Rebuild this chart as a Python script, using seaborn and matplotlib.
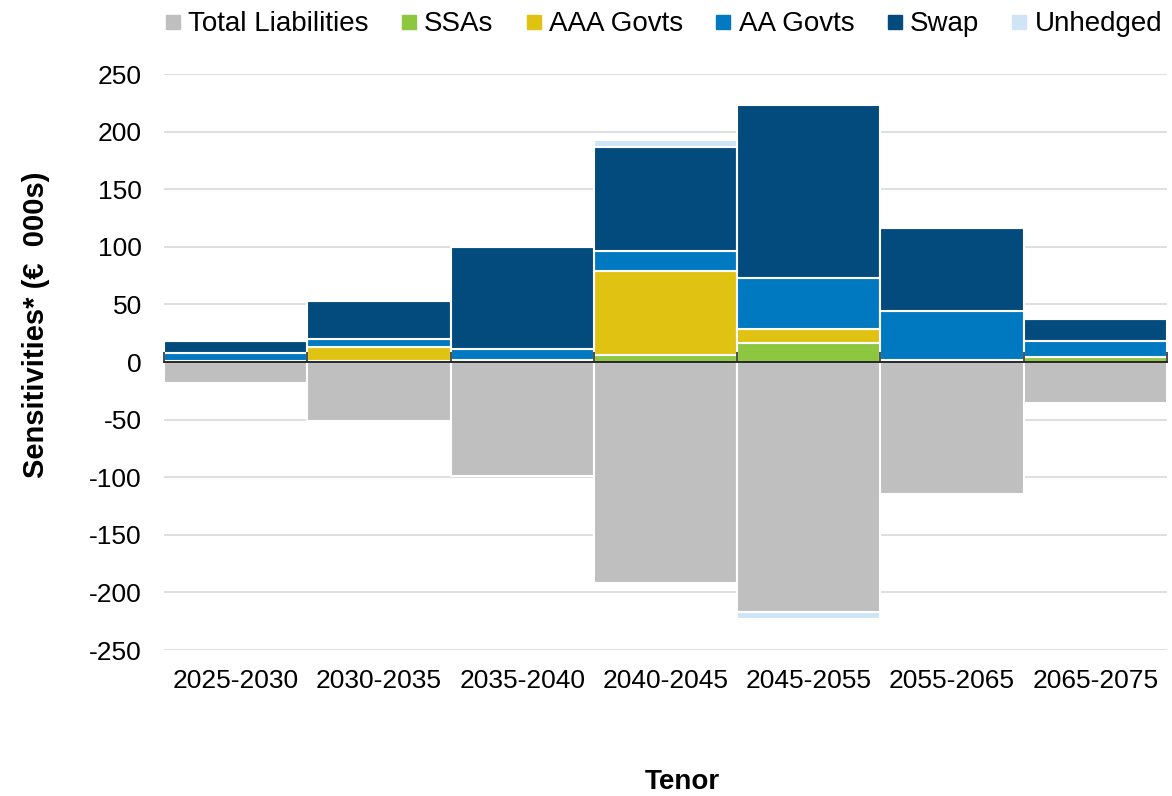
import numpy as np
import matplotlib
matplotlib.use("Agg")
import matplotlib.pyplot as plt
import seaborn as sns
from matplotlib.lines import Line2D

categories = ["2025-2030", "2030-2035", "2035-2040", "2040-2045",
              "2045-2055", "2055-2065", "2065-2075"]
total_liabilities = [-18, -51, -99, -192, -217, -115, -36]
ssas = [1, 1, 2, 6, 16.5, 2, 4]
aaa_govts = [0, 12, 0, 73, 12.5, 0, 0]
aa_govts = [7, 7, 9.5, 17.5, 44, 42.5, 14]
swap = [10.5, 33, 88.5, 90.5, 150.5, 71.5, 19]
unhedged = [0, 0, 0, 5.5, -6, 0, 0]
y_ticks = [-250, -200, -150, -100, -50, 0, 50, 100, 150, 200, 250]

colors = {
    "Total Liabilities": "#BFBFBF",
    "SSAs": "#8DC63F",
    "AAA Govts": "#E0C213",
    "AA Govts": "#0079C1",
    "Swap": "#034B7C",
    "Unhedged": "#CFE5F5",
}

sns.set_theme(style="white")
plt.rcParams["font.family"] = ["Liberation Sans", "DejaVu Sans"]
plt.rcParams["text.color"] = "black"
plt.rcParams["axes.labelcolor"] = "black"

fig = plt.figure(figsize=(11.72, 7.96), dpi=100)
ax = fig.add_axes([0.140, 0.1834, 0.8557, 0.7236])

x = np.arange(len(categories))
bar_kw = dict(width=1.0, edgecolor="white", linewidth=1.5, zorder=3)

# liabilities hang below zero
ax.bar(x, total_liabilities, color=colors["Total Liabilities"],
       label="Total Liabilities", **bar_kw)

# hedging assets stack upward from zero
pos_base = np.zeros(len(categories))
for name, vals in [("SSAs", ssas), ("AAA Govts", aaa_govts),
                   ("AA Govts", aa_govts), ("Swap", swap)]:
    v = np.array(vals, dtype=float)
    ax.bar(x, v, bottom=pos_base, color=colors[name], label=name, **bar_kw)
    pos_base += v

# unhedged sits on top of assets when positive, below liabilities when negative
uh = np.array(unhedged, dtype=float)
uh_bottom = np.where(uh >= 0, pos_base, np.array(total_liabilities, dtype=float))
ax.bar(x, uh, bottom=uh_bottom, color=colors["Unhedged"], label="Unhedged", **bar_kw)

ax.set_xlim(-0.5, len(categories) - 0.5)
ax.set_ylim(-250, 250)
ax.set_yticks(y_ticks)
ax.set_yticklabels([str(t) for t in y_ticks])
ax.yaxis.grid(True, color="#D9D9D9", linewidth=1.2, zorder=0)
ax.xaxis.grid(False)
for s in ax.spines.values():
    s.set_visible(False)

ax.set_xticks(x)
ax.set_xticklabels(categories)
ax.tick_params(axis="x", length=0, pad=14, labelsize=19, labelcolor="black")
ax.tick_params(axis="y", length=0, pad=16, labelsize=19, labelcolor="black")

# zero axis line with category-boundary tick marks
zero_ax = ax.secondary_xaxis(0.5)
zero_ax.set_zorder(6)
zero_ax.set_xticks(np.arange(-0.5, len(categories), 1.0))
zero_ax.set_xticklabels([])
zero_ax.tick_params(axis="x", direction="out", length=7, width=1.3, color="#404040")
zero_ax.spines["bottom"].set_visible(True)
zero_ax.spines["bottom"].set_color("#404040")
zero_ax.spines["bottom"].set_linewidth(1.3)

ax.set_ylabel("Sensitivities* (€  000s)", fontsize=21, fontweight="bold")
ax.yaxis.set_label_coords(-0.114, 0.564)
ax.set_xlabel("Tenor", fontsize=20, fontweight="bold")
ax.xaxis.set_label_coords(0.517, -0.206)

handles, labels = ax.get_legend_handles_labels()
proxies = [Line2D([0], [0], marker="s", linestyle="none", markersize=10,
                  markerfacecolor=colors[l], markeredgecolor=colors[l]) for l in labels]
fig.legend(proxies, labels, loc="upper center", bbox_to_anchor=(0.566, 1.017),
           ncol=6, frameon=False, fontsize=20, handlelength=0.6,
           handletextpad=0.25, columnspacing=1.15)

fig.savefig("out.png", dpi=100, facecolor="white")
